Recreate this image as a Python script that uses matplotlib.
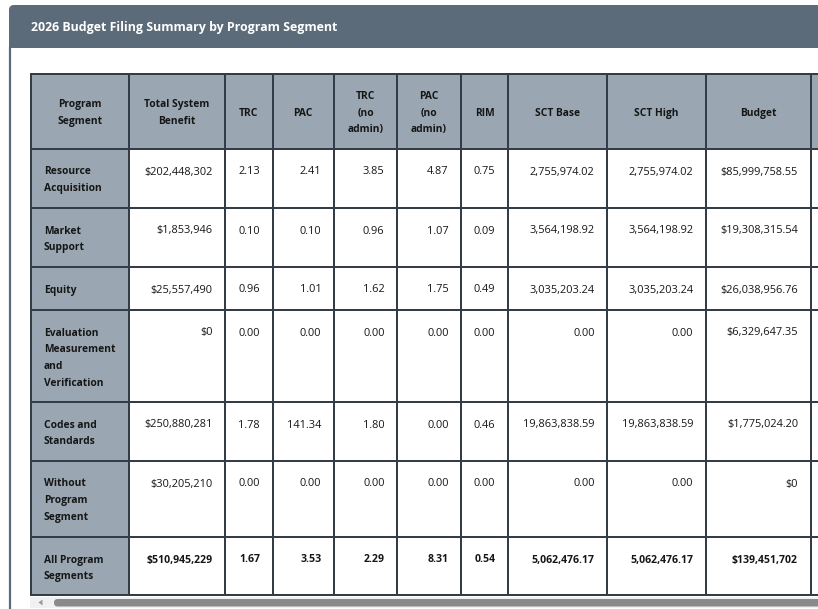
import matplotlib
matplotlib.use("Agg")
import matplotlib.pyplot as plt
from matplotlib.patches import Rectangle, FancyBboxPatch, Polygon

# ---------------- data ----------------
title = "2026 Budget Filing Summary by Program Segment"
headers = ["Program\nSegment", "Total System\nBenefit", "TRC", "PAC", "TRC\n(no\nadmin)",
           "PAC\n(no\nadmin)", "RIM", "SCT Base", "SCT High", "Budget"]
segments = ["Resource\nAcquisition", "Market\nSupport", "Equity",
            "Evaluation\nMeasurement\nand\nVerification", "Codes and\nStandards",
            "Without\nProgram\nSegment", "All Program\nSegments"]
total_system_benefit = [202448302, 1853946, 25557490, 0, 250880281, 30205210, 510945229]
trc = [2.13, 0.10, 0.96, 0.00, 1.78, 0.00, 1.67]
pac = [2.41, 0.10, 1.01, 0.00, 141.34, 0.00, 3.53]
trc_no_admin = [3.85, 0.96, 1.62, 0.00, 1.80, 0.00, 2.29]
pac_no_admin = [4.87, 1.07, 1.75, 0.00, 0.00, 0.00, 8.31]
rim = [0.75, 0.09, 0.49, 0.00, 0.46, 0.00, 0.54]
sct_base = [2755974.02, 3564198.92, 3035203.24, 0.00, 19863838.59, 0.00, 5062476.17]
sct_high = [2755974.02, 3564198.92, 3035203.24, 0.00, 19863838.59, 0.00, 5062476.17]
budget = [85999758.55, 19308315.54, 26038956.76, 6329647.35, 1775024.20, 0, 139451702]
budget_decimals = [2, 2, 2, 2, 2, 0, 0]


def money(v, d=0):
    if v == 0:
        return "$0"
    return "${:,.{d}f}".format(v, d=d)


rows = []
for i in range(len(segments)):
    rows.append([
        money(total_system_benefit[i]),
        f"{trc[i]:.2f}", f"{pac[i]:.2f}", f"{trc_no_admin[i]:.2f}", f"{pac_no_admin[i]:.2f}",
        f"{rim[i]:.2f}", f"{sct_base[i]:,.2f}", f"{sct_high[i]:,.2f}",
        money(budget[i], budget_decimals[i]),
    ])

# ---------------- layout ----------------
W, H = 818, 609
col_edges = [31, 128.5, 225, 272.5, 334, 397, 461, 508, 607, 706, 810.5, 900]
row_edges = [74, 149, 208, 267, 310, 402, 461, 537, 595]
LINE_H = 16.7
PAD = 12.5
HEAD_BG = "#9aa7b2"
GRID = "#343d45"
BAR = "#5b6b79"
TXT = "#161616"
FONT = "Open Sans"
FS = 7.9          # regular data text
FS_LABEL = 7.4    # bold header / segment labels

fig = plt.figure(figsize=(W / 100, H / 100), dpi=100)
ax = fig.add_axes([0, 0, 1, 1])
ax.set_xlim(0, W)
ax.set_ylim(H, 0)
ax.axis("off")

# title bar
ax.add_patch(FancyBboxPatch((9, 5), 900, 42, boxstyle="round,pad=0,rounding_size=5",
                            fc=BAR, ec="none", zorder=1))
ax.add_patch(Rectangle((9, 30), 900, 17.5, fc=BAR, ec="none", zorder=1))
ax.text(31, 27.5, title, color="white", fontsize=8.9, fontweight="bold",
        family=FONT, va="center", ha="left", zorder=2)
# panel left border
ax.plot([10, 10], [47, H], color=BAR, lw=1.6, solid_capstyle="butt", zorder=1)

# cell backgrounds
ax.add_patch(Rectangle((col_edges[0], row_edges[0]), col_edges[-1] - col_edges[0],
                       row_edges[1] - row_edges[0], fc=HEAD_BG, ec="none", zorder=1))
ax.add_patch(Rectangle((col_edges[0], row_edges[1]), col_edges[1] - col_edges[0],
                       row_edges[-1] - row_edges[1], fc=HEAD_BG, ec="none", zorder=1))

# grid lines
lw = 2 * 0.72
for x in col_edges[:-1]:
    ax.plot([x, x], [row_edges[0], row_edges[-1]], color=GRID, lw=lw, zorder=3,
            solid_capstyle="projecting")
for y in row_edges:
    ax.plot([col_edges[0], col_edges[-1]], [y, y], color=GRID, lw=lw, zorder=3,
            solid_capstyle="projecting")


def draw_lines(text, x, y_first, ha, bold, size):
    for k, line in enumerate(text.split("\n")):
        ax.text(x, y_first + k * LINE_H + 4.2, line, ha=ha, va="baseline",
                fontsize=size, family=FONT, color=TXT,
                fontweight="bold" if bold else "normal", zorder=4)


# header
ytop, ybot = row_edges[0], row_edges[1]
for j, h in enumerate(headers):
    n = len(h.split("\n"))
    cx = (col_edges[j] + col_edges[j + 1]) / 2
    cy = (ytop + ybot) / 2
    draw_lines(h, cx, cy - (n - 1) / 2 * LINE_H, "center", True, FS_LABEL)

# body
for i, seg in enumerate(segments):
    top = row_edges[i + 1]
    bold_row = i == len(segments) - 1
    draw_lines(seg, col_edges[0] + PAD + 0.5, top + 21.3, "left", True, FS_LABEL)
    for j, val in enumerate(rows[i]):
        draw_lines(val, col_edges[j + 2] - PAD, top + 21.3, "right", bold_row,
                   7.6 if bold_row else FS)

# scrollbar
ax.add_patch(Rectangle((30, 597), W, 11, fc="#f1f1f1", ec="none", zorder=1))
ax.add_patch(Polygon([[38.5, 602.5], [42.5, 599.5], [42.5, 605.5]], closed=True,
                     fc="#9a9a9a", ec="none", zorder=2))
ax.add_patch(FancyBboxPatch((54, 599), 800, 7.5, boxstyle="round,pad=0,rounding_size=3.7",
                            fc="#8a8a8a", ec="none", zorder=2))

fig.savefig("out.png", dpi=100)
